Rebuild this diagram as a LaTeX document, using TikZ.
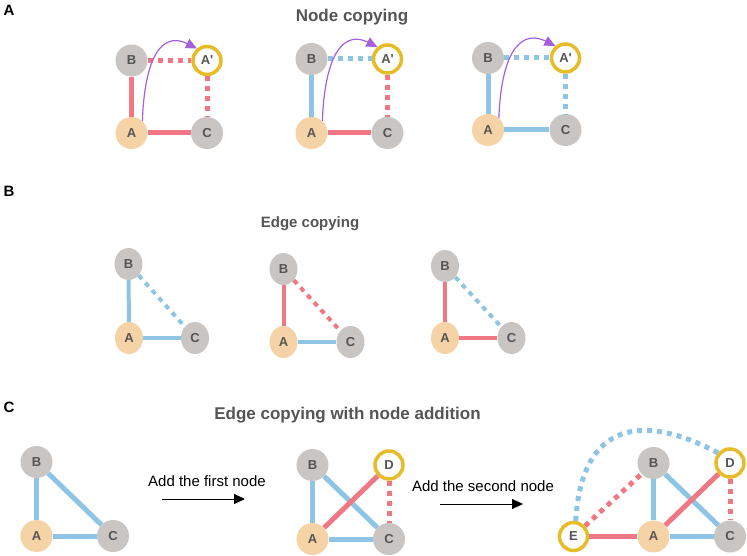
\documentclass[tikz,border=0pt]{standalone}
\usepackage{fontspec}
\setmainfont{Liberation Sans}
\usepackage{tikz}
\usetikzlibrary{positioning,arrows.meta,shapes.geometric}
\definecolor{edgered}{RGB}{240,120,132}
\definecolor{edgeblue}{RGB}{142,196,228}
\definecolor{nodegrey}{RGB}{200,197,195}
\definecolor{nodepeach}{RGB}{245,211,166}
\definecolor{ringyellow}{RGB}{230,188,40}
\definecolor{arrowpurple}{RGB}{165,95,220}
\definecolor{textgrey}{RGB}{85,85,85}

\begin{document}
\begin{tikzpicture}[x=1pt,y=-1pt]
\useasboundingbox (0,0) rectangle (747,556);

% 1. Stile definieren
\tikzset{
  grey node/.style={
    circle, fill=nodegrey, minimum size=32pt, inner sep=0pt,
    text=textgrey, font=\fontsize{13}{15}\selectfont\bfseries
  },
  peach node/.style={grey node, fill=nodepeach},
  ring node/.style={grey node, fill=white, draw=ringyellow, line width=3.5pt, minimum size=28pt},
  grey oval/.style={grey node, ellipse, minimum width=28pt, minimum height=32pt},
  peach oval/.style={grey oval, fill=nodepeach},
  red line/.style={draw=edgered, line width=5pt},
  blue line/.style={draw=edgeblue, line width=5pt},
  red dots/.style={red line, dash pattern=on 5pt off 5pt},
  blue dots/.style={blue line, dash pattern=on 5pt off 5pt},
  copy arrow/.style={draw=arrowpurple, line width=1.2pt, -{Triangle[length=11pt,width=10pt]}},
  add arrow/.style={draw=black, line width=0.9pt, -{Triangle[length=11pt,width=10pt]}},
  title/.style={text=textgrey, font=\fontsize{17}{20}\selectfont\bfseries},
  panel/.style={font=\fontsize{15}{18}\selectfont\bfseries}
}

% 2. Ueberschriften
\node [panel] (panA) at (9,10) {A};
\node [panel] (panB) at (9,191) {B};
\node [panel] (panC) at (9,407) {C};
\node [title] (titA) at (352,17) {Node copying};
\node [title, font=\fontsize{15}{18}\selectfont\bfseries] (titB) at (310,224) {Edge copying};
\node [title] (titC) at (347.5,415) {Edge copying with node addition};

% 3. Teil A: Knoten kopieren
\node [grey node] (a1B) at (131.5,60.5) {B};
\node [ring node] (a1P) at (207,60.5) {A\textquotesingle};
\node [peach node] (a1A) at (131.5,133) {A};
\node [grey node] (a1C) at (207,133) {C};
\draw [red line] (a1B) -- (a1A);
\draw [red line] (a1A) -- (a1C);
\draw [red dots] (a1B) -- (a1P);
\draw [red dots] (a1P) -- (a1C);
\draw [copy arrow] (a1A.48) .. controls +(3,-75) and +(-30,-15) .. (a1P.130);

\node [grey node] (a2B) at (311.5,59) {B};
\node [ring node] (a2P) at (387.5,59) {A\textquotesingle};
\node [peach node] (a2A) at (311.5,133) {A};
\node [grey node] (a2C) at (387.5,133) {C};
\draw [blue line] (a2B) -- (a2A);
\draw [red line] (a2A) -- (a2C);
\draw [blue dots] (a2B) -- (a2P);
\draw [red dots] (a2P) -- (a2C);
\draw [copy arrow] (a2A.48) .. controls +(3,-75) and +(-30,-15) .. (a2P.130);

\node [grey node] (a3B) at (488,58) {B};
\node [ring node] (a3P) at (565.5,58) {A\textquotesingle};
\node [peach node] (a3A) at (488,130) {A};
\node [grey node] (a3C) at (565.5,130) {C};
\draw [blue line] (a3B) -- (a3A);
\draw [blue line] (a3A) -- (a3C);
\draw [blue dots] (a3B) -- (a3P);
\draw [blue dots] (a3P) -- (a3C);
\draw [copy arrow] (a3A.48) .. controls +(3,-75) and +(-30,-15) .. (a3P.130);

% 4. Teil B: Kanten kopieren
\begin{scope}
\tikzset{red line/.append style={line width=4pt}, blue line/.append style={line width=4pt}}
\node [grey oval] (b1B) at (128.5,264) {B};
\node [peach oval] (b1A) at (129,338) {A};
\node [grey oval] (b1C) at (195,338) {C};
\draw [blue line] (b1B) -- (b1A);
\draw [blue line] (b1A) -- (b1C);
\draw [blue dots] (b1B) -- (b1C);

\node [grey oval] (b2B) at (283.5,269) {B};
\node [peach oval] (b2A) at (283.5,342) {A};
\node [grey oval] (b2C) at (350.5,342) {C};
\draw [red line] (b2B) -- (b2A);
\draw [blue line] (b2A) -- (b2C);
\draw [red dots] (b2B) -- (b2C);

\node [grey oval] (b3B) at (445,266) {B};
\node [peach oval] (b3A) at (445,338) {A};
\node [grey oval] (b3C) at (511.5,338) {C};
\draw [red line] (b3B) -- (b3A);
\draw [red line] (b3A) -- (b3C);
\draw [blue dots] (b3B) -- (b3C);
\end{scope}

% 5. Teil C: Kanten kopieren mit neuen Knoten
\node [grey node] (c1B) at (36.5,462) {B};
\node [peach node] (c1A) at (36.5,536) {A};
\node [grey node] (c1C) at (113,536) {C};
\draw [blue line] (c1B) -- (c1A);
\draw [blue line] (c1A) -- (c1C);
\draw [blue line] (c1B) -- (c1C);

\node [font=\fontsize{15}{18}\selectfont] (add1) at (207,481) {Add the first node};
\coordinate (add1s) at (162,499);
\coordinate (add1e) at (245,499);
\draw [add arrow] (add1s) -- (add1e);

\node [grey node] (c2B) at (312.5,465) {B};
\node [ring node] (c2D) at (389,465) {D};
\node [peach node] (c2A) at (312.5,539) {A};
\node [grey node] (c2C) at (389,539) {C};
\draw [blue line] (c2B) -- (c2A);
\draw [blue line] (c2A) -- (c2C);
\draw [blue line] (c2B) -- (c2C);
\draw [red line] (c2A) -- (c2D);
\draw [red dots] (c2D) -- (c2C);

\node [font=\fontsize{15}{18}\selectfont] (add2) at (483,486) {Add the second node};
\coordinate (add2s) at (440,504);
\coordinate (add2e) at (523,504);
\draw [add arrow] (add2s) -- (add2e);

\node [grey node] (c3B) at (653.5,463) {B};
\node [ring node] (c3D) at (730,463) {D};
\node [ring node] (c3E) at (573.5,536.5) {E};
\node [peach node] (c3A) at (653.5,536.5) {A};
\node [grey node] (c3C) at (730,536.5) {C};
\draw [red line] (c3E) -- (c3A);
\draw [blue line] (c3A) -- (c3C);
\draw [blue line] (c3B) -- (c3A);
\draw [blue line] (c3B) -- (c3C);
\draw [red line] (c3A) -- (c3D);
\draw [red dots] (c3D) -- (c3C);
\draw [red dots] (c3E) -- (c3B);
\draw [blue dots] (c3E.82) .. controls +(6,-100) and +(-75,-40) .. (c3D.140);

\end{tikzpicture}
\end{document}
